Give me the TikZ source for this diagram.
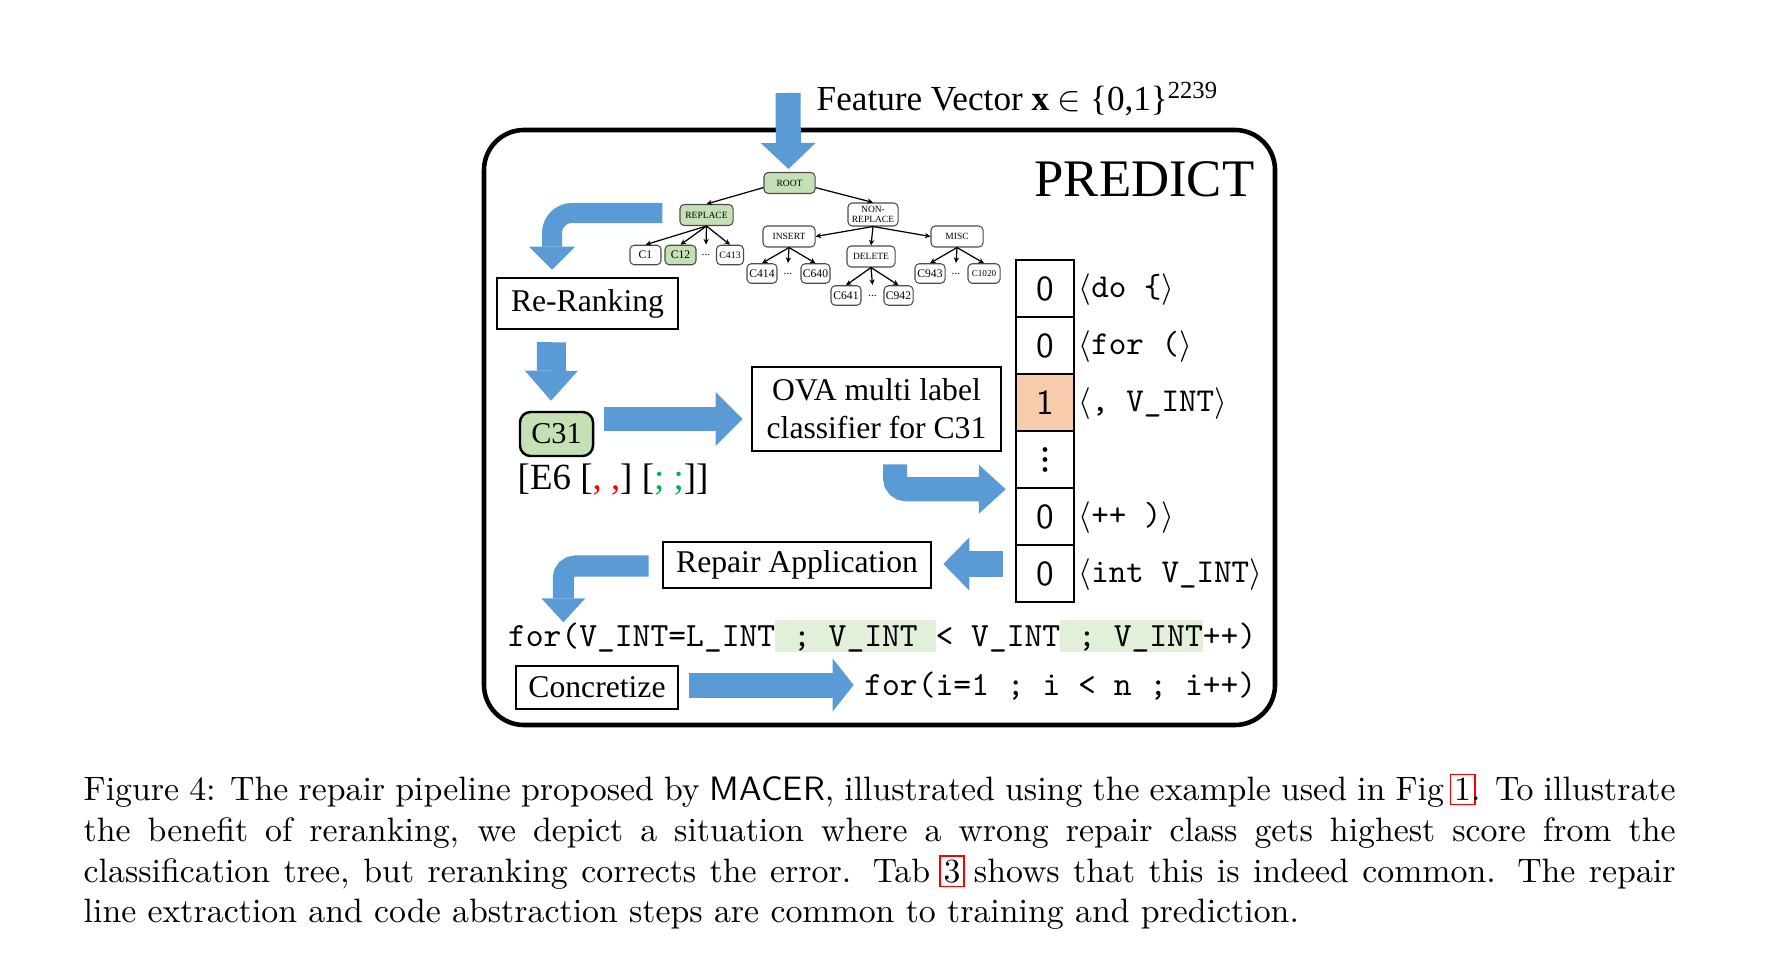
\documentclass[tikz,border=0pt]{standalone}
\usepackage{fontspec}
\usetikzlibrary{arrows.meta,calc}

\newfontfamily\tnr{Liberation Serif}

\definecolor{flowblue}{HTML}{5B9BD5}
\definecolor{nodegreen}{HTML}{C5E0B4}
\definecolor{hotorange}{HTML}{F8CBAD}
\definecolor{hlgreen}{HTML}{E2F0D9}
\definecolor{semigreen}{HTML}{00B050}

\newsavebox\linkbx
\newcommand\reflink[1]{\begingroup\sbox\linkbx{#1}\setlength{\fboxsep}{0.8pt}\setlength{\fboxrule}{0.5pt}\makebox[\wd\linkbx]{\textcolor{red}{\fbox{\textcolor{black}{#1}}}}\endgroup}
\newcommand\hlbox[1]{{\setlength{\fboxsep}{0pt}\colorbox{hlgreen}{\rule[-0.04cm]{0pt}{0.30cm}#1}}}

\tikzset{
  blockflow/.style n args={3}{draw=flowblue, line width=#1, -{Triangle[length=#2,width=#3,line width=0pt]}},
  tnode/.style={draw=black!70, line width=0.3pt, rounded corners=1.2pt, inner sep=0pt, minimum height=0.21cm, align=center, font=\tnr\fontsize{2.7}{3}\selectfont},
  leaf/.style={tnode, minimum height=0.195cm, font=\tnr\fontsize{3.3}{4}\selectfont},
  tdots/.style={inner sep=0pt, minimum height=0.195cm, font=\tnr\fontsize{3.3}{4}\selectfont},
  tedge/.style={-{Stealth[length=1.6pt,width=1.5pt]}, line width=0.35pt},
  stagebox/.style={draw, line width=0.7pt, inner sep=0pt, align=center, font=\tnr\fontsize{9}{10.8}\selectfont},
  veccell/.style={draw, line width=0.7pt, minimum width=0.58cm, minimum height=0.57cm, inner sep=0pt, font=\sffamily\fontsize{10}{12}\selectfont},
  toklabel/.style={anchor=west, inner sep=0pt, font=\fontsize{9.5}{11}\selectfont},
}

\begin{document}
\begin{tikzpicture}[x=0.01cm, y=-0.01cm]
\fill[white] (0,0) rectangle (1789,967);
\useasboundingbox (0,0) rectangle (1789,967);

% frame
\draw[line width=1.3pt, rounded corners=0.4cm] (484,130) rectangle (1275,725);
\node[anchor=base east, inner sep=0pt, font=\tnr\fontsize{15}{18}\selectfont] (predict) at (1255,197) {PREDICT};

\node[anchor=base west, inner sep=0pt, font=\tnr\fontsize{10}{12}\selectfont] (fvlabel) at (816,111) {Feature Vector \textbf{x} $\in$ \{0,1\}\textsuperscript{2239}};
\coordinate (fvtop) at (788,93);

% classification tree
\node[tnode, fill=nodegreen, minimum width=0.51cm] (root) at (789.5,183) {ROOT};
\node[tnode, fill=nodegreen, minimum width=0.53cm] (replace) at (706.5,215) {REPLACE};
\node[tnode, minimum width=0.50cm, minimum height=0.23cm] (nonrep) at (873,214.5) {NON-\\REPLACE};
\node[tnode, minimum width=0.52cm] (insert) at (789,236.5) {INSERT};
\node[tnode, minimum width=0.48cm] (delete) at (871,256.5) {DELETE};
\node[tnode, minimum width=0.52cm] (misc) at (957,236.5) {MISC};

\node[leaf, minimum width=0.31cm] (c1) at (645.5,255) {C1};
\node[leaf, fill=nodegreen, minimum width=0.31cm] (c12) at (680.5,255) {C12};
\node[tdots] (rdots) at (706,255) {...};
\node[leaf, minimum width=0.27cm, font=\tnr\fontsize{2.8}{3}\selectfont] (c413) at (730,255) {C413};
\node[leaf, minimum width=0.30cm] (c414) at (762,273.5) {C414};
\node[tdots] (idots) at (788,273.5) {...};
\node[leaf, minimum width=0.29cm] (c640) at (815.5,273.5) {C640};
\node[leaf, minimum width=0.30cm] (c641) at (846,295.5) {C641};
\node[tdots] (ddots) at (872.5,295.5) {...};
\node[leaf, minimum width=0.29cm] (c942) at (898.5,295.5) {C942};
\node[leaf, minimum width=0.30cm] (c943) at (930,273.5) {C943};
\node[tdots] (mdots) at (956,273.5) {...};
\node[leaf, minimum width=0.32cm, font=\tnr\fontsize{2.6}{3}\selectfont] (c1020) at (984,273.5) {C1020};

\draw[tedge] (root.190) -- (replace.north);
\draw[tedge] (root.350) -- (nonrep.north);
\draw[tedge] (nonrep.south) -- (insert.east);
\draw[tedge] (nonrep.south) -- (delete.north);
\draw[tedge] (nonrep.south) -- (misc.west);
\foreach \kid in {c1,c12,rdots,c413}
  \draw[tedge] (replace.south) -- (\kid.north);
\foreach \kid in {c414,idots,c640}
  \draw[tedge] (insert.south) -- (\kid.north);
\foreach \kid in {c641,ddots,c942}
  \draw[tedge] (delete.south) -- (\kid.north);
\foreach \kid in {c943,mdots,c1020}
  \draw[tedge] (misc.south) -- (\kid.north);

% pipeline stages
\node[stagebox, minimum width=1.81cm, minimum height=0.51cm] (rerank) at (587.5,303.5) {Re-Ranking};
\node[stagebox, fill=nodegreen, rounded corners=3pt, minimum width=0.73cm, minimum height=0.44cm, font=\tnr\fontsize{8.6}{10}\selectfont] (c31) at (556.5,434) {C31};
\node[anchor=west, inner sep=0pt, font=\tnr\fontsize{10.5}{12}\selectfont] (e6) at (517,480) {[E6 [\textcolor{red}{, ,}] [\textcolor{semigreen}{; ;}]]};
\node[stagebox, minimum width=2.49cm, minimum height=0.84cm] (ova) at (876.5,409) {OVA multi label\\classifier for C31};
\node[stagebox, minimum width=2.68cm, minimum height=0.46cm] (repair) at (797,565) {Repair Application};
\node[stagebox, minimum width=1.62cm, minimum height=0.43cm] (concretize) at (597,687.5) {Concretize};

% token vector
\foreach \val/\shade [count=\i] in {0/white,0/white,1/hotorange,{}/white,0/white,0/white}
  \node[veccell, fill=\shade] (v\i) at (1045,231.5+57*\i) {\val};
\foreach \dy in {-10,0,10}
  \fill ($(v4.center)+(0,\dy)$) circle (0.024cm);
\node[toklabel] (t1) at (1078,289.5) {$\langle$\texttt{do \{}$\rangle$};
\node[toklabel] (t2) at (1078,346.5) {$\langle$\texttt{for (}$\rangle$};
\node[toklabel] (t3) at (1078,403.5) {$\langle$\texttt{, V\_INT}$\rangle$};
\node[toklabel] (t5) at (1078,517.5) {$\langle$\texttt{++ )}$\rangle$};
\node[toklabel] (t6) at (1078,574.5) {$\langle$\texttt{int V\_INT}$\rangle$};

% code lines
\node[anchor=base east, inner sep=0pt, font=\ttfamily\fontsize{9.65}{12}\selectfont] (abstractfor) at (1257,646) {for(V\_INT=L\_INT\hlbox{\ ;\ V\_INT\ }<\ V\_INT\hlbox{\ ;\ V\_INT}++)};
\node[anchor=base east, inner sep=0pt, font=\ttfamily\fontsize{9.65}{12}\selectfont] (concretefor) at (1257,695) {for(i=1 ; i < n ; i++)};

% block arrows
\draw[blockflow={0.25cm}{0.26cm}{0.55cm}] (fvtop) -- ($(root.north)+(-1,-3)$);
\draw[blockflow={0.20cm}{0.23cm}{0.46cm}, rounded corners=0.2cm] ($(replace.west)+(-17,-2)$) -| ($(rerank.north)+(-35.5,-7)$);
\draw[blockflow={0.29cm}{0.30cm}{0.53cm}] ($(rerank.south)+(-36,12)$) -- ($(c31.north)+(-5.5,-10)$);
\draw[blockflow={0.24cm}{0.27cm}{0.54cm}] ($(c31.east)+(10,-15)$) -- ($(ova.west)+(-8,10)$);
\draw[blockflow={0.24cm}{0.27cm}{0.49cm}, rounded corners=0.11cm] ($(ova.south)+(18.5,12)$) |- ($(v4.south west)+(-9,0)$);
\draw[blockflow={0.25cm}{0.26cm}{0.53cm}] ($(repair.east -| v6.west)+(-12,-1)$) -- ($(repair.east)+(11,-1)$);
\draw[blockflow={0.21cm}{0.24cm}{0.44cm}, rounded corners=0.12cm] ($(repair.west)+(-13,1)$) -| ($(abstractfor.north west)+(56,3)$);
\draw[blockflow={0.25cm}{0.21cm}{0.53cm}] ($(concretize.east)+(10,-2.5)$) -- ($(concretize.east -| concretefor.west)+(-10,-2.5)$);

% caption
\node[anchor=north west, inner sep=0pt, text width=15.91cm, align=justify, font=\fontsize{9.62}{11.55}\selectfont] (caption) at (83,773) {Figure 4: The repair pipeline proposed by \textsf{MACER}, illustrated using the example used in Fig~\reflink{1}. To illustrate\linebreak the benefit of reranking, we depict a situation where a wrong repair class gets highest score from the\linebreak classification tree, but reranking corrects the error. Tab~\reflink{3} shows that this is indeed common. The repair\linebreak line extraction and code abstraction steps are common to training and prediction.};

\end{tikzpicture}
\end{document}
